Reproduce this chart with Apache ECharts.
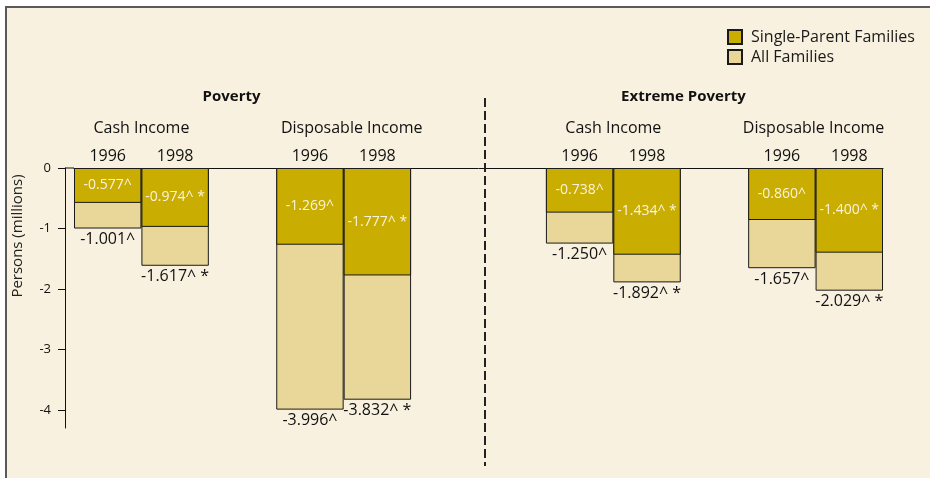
<!DOCTYPE html>
<html>
<head>
<meta charset="utf-8">
<script src="https://cdn.jsdelivr.net/npm/echarts@6/dist/echarts.min.js"></script>
<style>
html, body { margin: 0; padding: 0; background: #ffffff; }
#wrap { position: relative; width: 930px; height: 478px; overflow: hidden; background: #ffffff; }
#frame { position: absolute; left: 5px; top: 6px; width: 940px; height: 490px; background: #F9F1DF; border-left: 2px solid #5a5a5a; border-top: 2px solid #5a5a5a; }
#chart { position: absolute; left: 0; top: 0; width: 930px; height: 478px; }
</style>
</head>
<body>
<div id="wrap">
  <div id="frame"></div>
  <div id="chart"></div>
</div>
<script>
// ---- data ----
const yearLabels = ['1996', '1998'];
const incomeTypes = ['Cash Income', 'Disposable Income'];
const povertyLevels = ['Poverty', 'Extreme Poverty'];
const seriesNames = ['Single-Parent Families', 'All Families'];
const singleParent = [-0.577, -0.974, -1.269, -1.777, -0.738, -1.434, -0.860, -1.400];
const allFamilies  = [-1.001, -1.617, -3.996, -3.832, -1.250, -1.892, -1.657, -2.029];
const singleParentLabels = ['-0.577^', '-0.974^ *', '-1.269^', '-1.777^ *', '-0.738^', '-1.434^ *', '-0.860^', '-1.400^ *'];
const allFamiliesLabels  = ['-1.001^', '-1.617^ *', '-3.996^', '-3.832^ *', '-1.250^', '-1.892^ *', '-1.657^', '-2.029^ *'];
const yTicks = [0, -1, -2, -3, -4];

// ---- layout: bar slots on a 12-slot category axis (blank slots are spacers) ----
const slots = [0, 1, 3, 4, 7, 8, 10, 11];
const nSlots = 12;
const categories = new Array(nSlots).fill('');
const spData = new Array(nSlots).fill(null);
const allData = new Array(nSlots).fill(null);
const spLab = new Array(nSlots).fill('');
const allLab = new Array(nSlots).fill('');
slots.forEach((s, i) => {
  categories[s] = yearLabels[i % 2];
  spData[s] = singleParent[i];
  allData[s] = allFamilies[i];
  spLab[s] = singleParentLabels[i];
  allLab[s] = allFamiliesLabels[i];
});

const FONT = '"Open Sans", "Noto Sans", sans-serif';
const DARK = '#C9AD00';
const LIGHT = '#E8D799';
const chart = echarts.init(document.getElementById('chart'), null, { renderer: 'canvas' });

const option = {
  backgroundColor: 'transparent',
  animation: false,
  textStyle: { fontFamily: FONT },
  grid: { left: 74, right: 47, top: 168, bottom: 50, containLabel: false },
  legend: {
    orient: 'vertical',
    left: 722, top: 24,
    itemWidth: 14, itemHeight: 14, itemGap: 4,
    data: [seriesNames[0], seriesNames[1]],
    textStyle: { fontFamily: FONT, fontSize: 16, color: '#1a1a1a', padding: [0, 0, 0, 4] },
    icon: 'rect'
  },
  xAxis: {
    type: 'category',
    position: 'top',
    data: categories,
    axisLine: { show: true, lineStyle: { color: '#111', width: 1 } },
    axisTick: { show: false },
    axisLabel: { show: true, interval: 0, margin: 4, fontFamily: FONT, fontSize: 16, color: '#111' },
    splitLine: { show: false }
  },
  yAxis: {
    type: 'value',
    min: -4.3, max: 0,
    offset: 9,
    axisLine: { show: true, lineStyle: { color: '#111', width: 1 } },
    axisTick: { show: true, length: 7, inside: false, customValues: yTicks, lineStyle: { color: '#111' } },
    axisLabel: { show: true, customValues: yTicks, margin: 14, fontFamily: FONT, fontSize: 13, color: '#111' },
    splitLine: { show: false }
  },
  series: [
    {
      name: seriesNames[1],
      type: 'bar',
      data: allData,
      barWidth: '100%',
      barGap: '-100%',
      itemStyle: { color: LIGHT, borderColor: '#1a1a1a', borderWidth: 1 },
      label: {
        show: true, position: 'bottom', distance: 3,
        fontFamily: FONT, fontSize: 16, color: '#111',
        formatter: p => allLab[p.dataIndex]
      },
      z: 2
    },
    {
      name: seriesNames[0],
      type: 'bar',
      data: spData,
      barWidth: '100%',
      barGap: '-100%',
      itemStyle: { color: DARK, borderColor: '#1a1a1a', borderWidth: 1 },
      label: {
        show: true, position: 'inside',
        fontFamily: FONT, fontSize: 14, color: '#FAF3DD',
        formatter: p => spLab[p.dataIndex]
      },
      z: 3
    }
  ]
};
chart.setOption(option);

// ---- annotations placed through the axes' own scales ----
const px = s => chart.convertToPixel({ xAxisIndex: 0 }, s);
const y0 = chart.convertToPixel({ yAxisIndex: 0 }, 0);
const yAxisX = 74 - 9;
const incomeCenters = [];
for (let g = 0; g < 4; g++) {
  incomeCenters.push((px(slots[g * 2]) + px(slots[g * 2 + 1])) / 2);
}
const incomeOffsets = [0, 8, 0, -2];
const levelOffsets = [-11, -31];
const graphics = [];
for (let g = 0; g < 4; g++) {
  graphics.push({
    type: 'text', z: 10,
    style: { text: incomeTypes[g % 2], x: incomeCenters[g] + incomeOffsets[g], y: 128,
      align: 'center', verticalAlign: 'middle', font: '16px ' + FONT, fill: '#111' }
  });
}
for (let l = 0; l < 2; l++) {
  const c = (incomeCenters[l * 2] + incomeCenters[l * 2 + 1]) / 2 + levelOffsets[l];
  graphics.push({
    type: 'text', z: 10,
    style: { text: povertyLevels[l], x: c, y: 97,
      align: 'center', verticalAlign: 'middle', font: 'bold 15px ' + FONT, fill: '#111' }
  });
}
// y axis title
graphics.push({
  type: 'text', z: 10, x: 18, y: 236, rotation: Math.PI / 2,
  style: { text: 'Persons (millions)', x: 0, y: 0, align: 'center', verticalAlign: 'middle',
    font: '15px ' + FONT, fill: '#222' }
});
// zero-line joint between offset y axis and grid
graphics.push({
  type: 'line', z: 10,
  shape: { x1: yAxisX, y1: y0, x2: 74, y2: y0 },
  style: { stroke: '#111', lineWidth: 1 }
});
// dashed divider between Poverty and Extreme Poverty
graphics.push({
  type: 'line', z: 10,
  shape: { x1: 485, y1: 98, x2: 485, y2: 466 },
  style: { stroke: '#222', lineWidth: 2, lineDash: [9, 4] }
});
chart.setOption({ graphic: graphics });
</script>
</body>
</html>
